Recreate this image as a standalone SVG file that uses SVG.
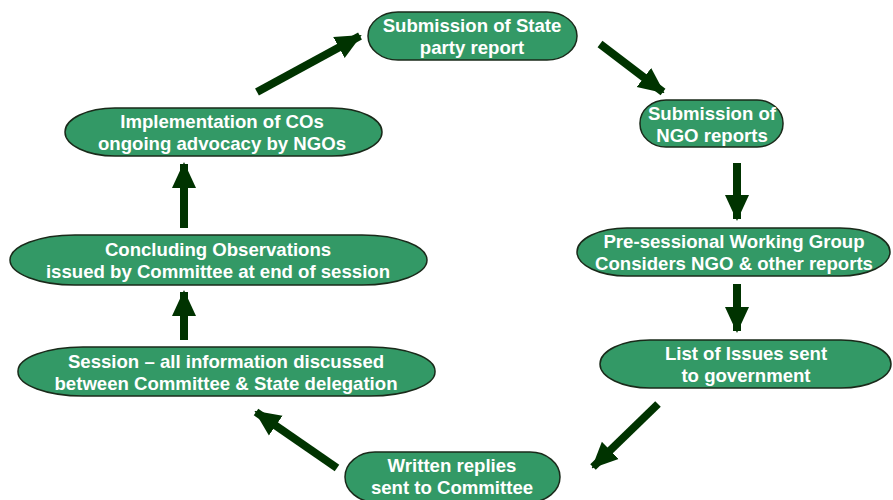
<svg xmlns="http://www.w3.org/2000/svg" width="893" height="500" viewBox="0 0 893 500">
<style>
.n{fill:#339966;stroke:#1a2a1a;stroke-width:1.5}
.t{font-family:"Liberation Sans",Arial,sans-serif;font-weight:bold;font-size:18.6px;fill:#ffffff;text-anchor:middle}
.c{stroke:#003300;stroke-width:8;fill:none;marker-end:url(#ah)}
</style>
<defs>
<marker id="ah" markerUnits="userSpaceOnUse" markerWidth="26" markerHeight="26" viewBox="0 0 26 26" refX="24" refY="13" orient="auto">
<path d="M0,1 L26,13 L0,25 Z" fill="#003300"/>
</marker>
</defs>
<rect width="893" height="500" fill="#ffffff"/>
<g id="connectors">
<line class="c" x1="257" y1="92" x2="360" y2="36"/>
<line class="c" x1="600" y1="44" x2="663" y2="92"/>
<line class="c" x1="737" y1="163" x2="737" y2="219"/>
<line class="c" x1="737" y1="284" x2="737" y2="331"/>
<line class="c" x1="658" y1="404" x2="593" y2="467"/>
<line class="c" x1="337" y1="468" x2="256" y2="412"/>
<line class="c" x1="184" y1="340" x2="184" y2="292"/>
<line class="c" x1="184" y1="228" x2="184" y2="164"/>
</g>
<g id="n1"><rect class="n" x="368" y="12" width="209" height="48" rx="30" ry="24"/>
<text class="t" x="472" y="32">Submission of State</text><text class="t" x="472" y="54">party report</text></g>
<g id="n2"><rect class="n" x="640" y="100" width="143" height="47" rx="26" ry="23"/>
<text class="t" x="712" y="120">Submission of</text><text class="t" x="712" y="142">NGO reports</text></g>
<g id="n3"><rect class="n" x="577" y="228" width="313" height="48" rx="50" ry="24"/>
<text class="t" x="734" y="248">Pre-sessional Working Group</text><text class="t" x="734" y="270">Considers NGO &amp; other reports</text></g>
<g id="n4"><rect class="n" x="600" y="340" width="291" height="48" rx="50" ry="24"/>
<text class="t" x="746" y="360">List of Issues sent</text><text class="t" x="746" y="382">to government</text></g>
<g id="n5"><rect class="n" x="345" y="452" width="215" height="50" rx="30" ry="25"/>
<text class="t" x="452" y="472">Written replies</text><text class="t" x="452" y="494">sent to Committee</text></g>
<g id="n6"><rect class="n" x="18" y="347" width="417" height="49" rx="65" ry="24"/>
<text class="t" x="226" y="368">Session – all information discussed</text><text class="t" x="226" y="390">between Committee &amp; State delegation</text></g>
<g id="n7"><rect class="n" x="10" y="235" width="417" height="50" rx="65" ry="25"/>
<text class="t" x="218" y="256">Concluding Observations</text><text class="t" x="218" y="278">issued by Committee at end of session</text></g>
<g id="n8"><rect class="n" x="65" y="108" width="317" height="48" rx="50" ry="24"/>
<text class="t" x="222" y="128">Implementation of COs</text><text class="t" x="222" y="150">ongoing advocacy by NGOs</text></g>
</svg>
